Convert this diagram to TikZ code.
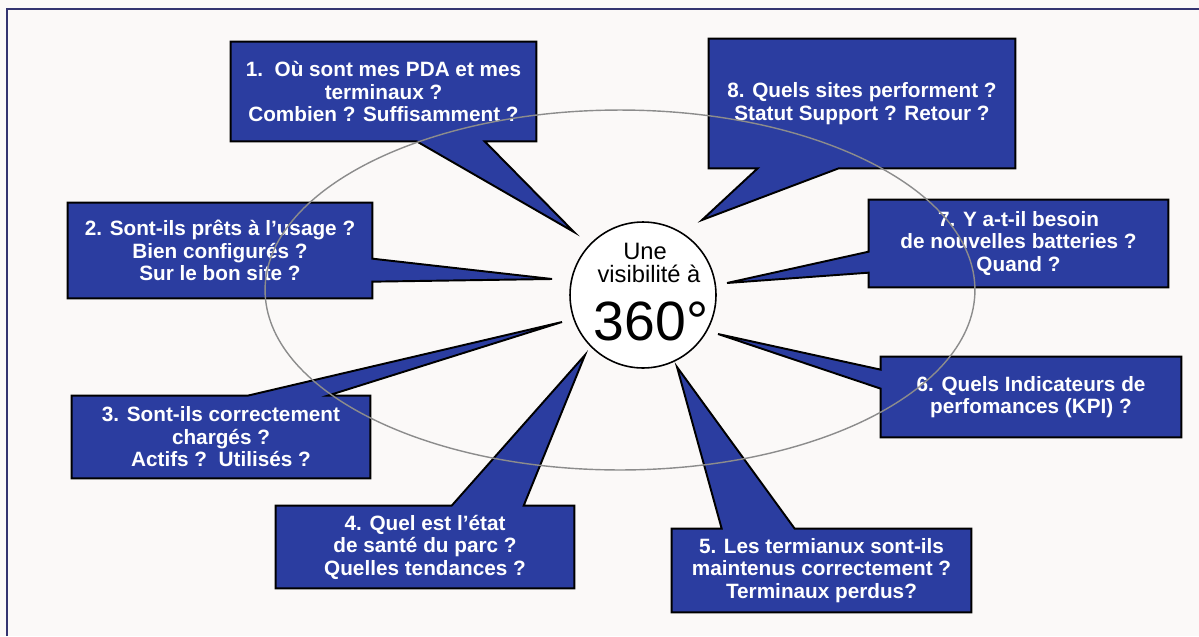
\documentclass[tikz,border=0pt]{standalone}
\usepackage{fontspec}
\setmainfont{Liberation Sans}
\usepackage{xcolor}
\usepackage{tikz}
\usetikzlibrary{calc, backgrounds}
\definecolor{bleu}{RGB}{43,61,160}
\definecolor{fondpage}{RGB}{251,249,248}
\definecolor{cadre}{RGB}{52,52,112}
\definecolor{gris}{RGB}{140,140,140}

\tikzset{
  boite/.style={inner sep=0pt, align=center, text=white, font=\fontsize{11.8}{12.8}\selectfont\bfseries},
  bulle/.style={fill=bleu, draw=black, line width=1.1pt, line join=miter},
  hub/.style={circle, draw=black, fill=white, line width=0.9pt, minimum size=2.92cm, inner sep=0pt},
}

\begin{document}
\begin{tikzpicture}[x=0.02cm, y=-0.02cm]
    \useasboundingbox (0,0) rectangle (1199,636);

    % Fond et cadre
    \begin{pgfonlayer}{background}
    \fill[fondpage] (0,0) rectangle (1199,636);
    \draw[cadre, line width=1.2pt] (7,636) -- (7,9) -- (1199,9);
    \end{pgfonlayer}

    % Cercle central
    \node[hub] (hub) at (643,295) {};
    \node[anchor=base, font=\fontsize{13.5}{14}\selectfont] (une) at (645,259) {Une};
    \node[anchor=base, font=\fontsize{13.5}{14}\selectfont] (visi) at (649,282) {visibilité à};
    \node[anchor=base, font=\fontsize{31.5}{32}\selectfont] (deg) at (651,340) {360°};

    % Pointes des bulles
    \coordinate (t1) at (574,232);
    \coordinate (t2) at (552,279);
    \coordinate (t3) at (562,322);
    \coordinate (t4) at (585,355);
    \coordinate (t5) at (677,367);
    \coordinate (t6) at (718,334);
    \coordinate (t7) at (727,283);
    \coordinate (t8) at (702,220);

    % Questions
    \node[boite, minimum width=6.10cm, minimum height=1.98cm] (q1) at (383.5,91.5)
        {1.\ \ Où sont mes PDA et mes\\terminaux ?\\Combien ? Suffisamment ?};
    \node[boite, minimum width=6.08cm, minimum height=1.90cm] (q2) at (220,250.5)
        {2. Sont-ils prêts à l’usage ?\\Bien configurés ?\\Sur le bon site ?};
    \node[boite, minimum width=5.96cm, minimum height=1.64cm] (q3) at (221,437)
        {3. Sont-ils correctement\\chargés ?\\Actifs ?\ \ Utilisés ?};
    \node[boite, minimum width=5.96cm, minimum height=1.64cm] (q4) at (425,547)
        {4. Quel est l’état\\de santé du parc ?\\Quelles tendances ?};
    \node[boite, minimum width=5.98cm, minimum height=1.66cm] (q5) at (821.5,570.5)
        {5. Les termianux sont-ils\\maintenus correctement ?\\Terminaux perdus?};
    \node[boite, minimum width=6.00cm, minimum height=1.60cm] (q6) at (1031,397)
        {6. Quels Indicateurs de\\perfomances (KPI) ?};
    \node[boite, minimum width=5.98cm, minimum height=1.74cm] (q7) at (1018.5,243.5)
        {7. Y a-t-il besoin\\de nouvelles batteries ?\\Quand ?};
    \node[boite, minimum width=6.12cm, minimum height=2.58cm] (q8) at (862,103.5)
        {8. Quels sites performent ?\\Statut Support ? Retour ?};

    % Bulles (sous le texte)
    \begin{pgfonlayer}{background}
    \filldraw[bulle] (q1.north west) -- (q1.north east) -- (q1.south east)
        -- ($(q1.south west)+(254,0)$) -- (t1) -- ($(q1.south west)+(186,0)$) -- (q1.south west) -- cycle;
    \filldraw[bulle] (q2.north west) -- (q2.north east) -- ($(q2.north east)+(0,56)$)
        -- (t2) -- ($(q2.north east)+(0,79)$) -- (q2.south east) -- (q2.south west) -- cycle;
    \filldraw[bulle] (q3.north west) -- ($(q3.north west)+(176,0)$) -- (t3)
        -- ($(q3.north west)+(256,0)$) -- (q3.north east) -- (q3.south east) -- (q3.south west) -- cycle;
    \filldraw[bulle] (q4.north west) -- ($(q4.north west)+(176,0)$) -- (t4)
        -- ($(q4.north west)+(248,0)$) -- (q4.north east) -- (q4.south east) -- (q4.south west) -- cycle;
    \filldraw[bulle] (q5.north west) -- ($(q5.north west)+(50,0)$) -- (t5)
        -- ($(q5.north west)+(123,0)$) -- (q5.north east) -- (q5.south east) -- (q5.south west) -- cycle;
    \filldraw[bulle] (q6.north west) -- (q6.north east) -- (q6.south east) -- (q6.south west)
        -- ($(q6.north west)+(0,32)$) -- (t6) -- ($(q6.north west)+(0,13)$) -- cycle;
    \filldraw[bulle] (q7.north west) -- (q7.north east) -- (q7.south east) -- (q7.south west)
        -- ($(q7.north west)+(0,73)$) -- (t7) -- ($(q7.north west)+(0,52)$) -- cycle;
    \filldraw[bulle] (q8.north west) -- (q8.north east) -- (q8.south east)
        -- ($(q8.south west)+(130,0)$) -- (t8) -- ($(q8.south west)+(49,0)$) -- (q8.south west) -- cycle;
    \end{pgfonlayer}

    % Ellipse
    \draw[gris, line width=0.8pt] (620,290) ellipse [x radius=7.1cm, y radius=3.6cm];
\end{tikzpicture}
\end{document}
